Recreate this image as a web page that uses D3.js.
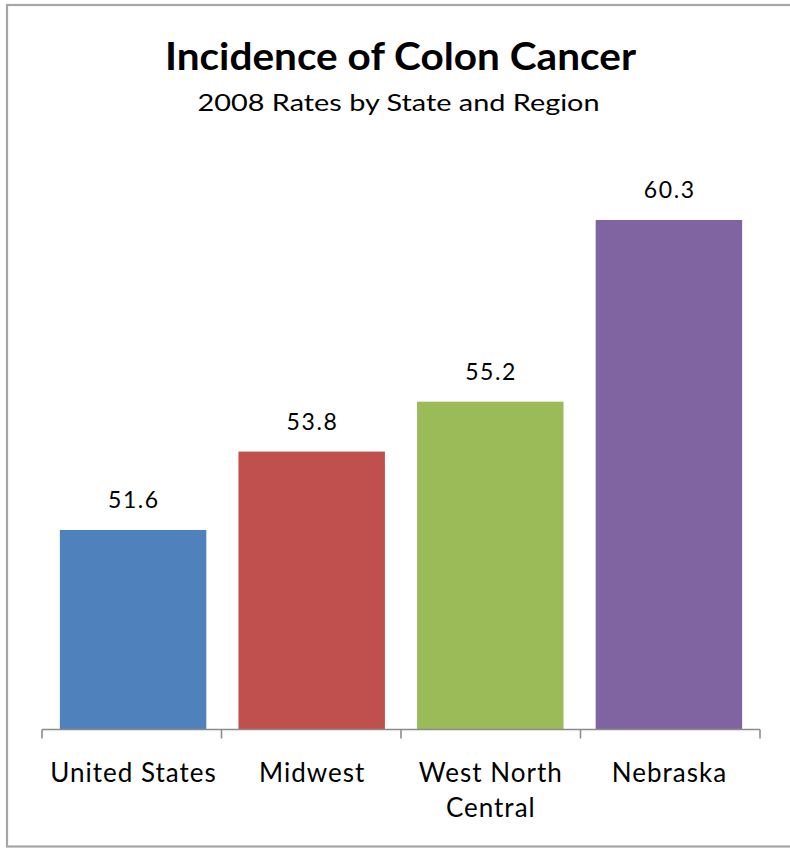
<!DOCTYPE html>
<html>
<head>
<meta charset="utf-8">
<script src="https://cdn.jsdelivr.net/npm/d3@7"></script>
<style>
  html, body { margin: 0; padding: 0; background: #fff; }
  svg { display: block; }
  text { font-family: Lato, "Open Sans", sans-serif; fill: #000; }
</style>
</head>
<body>
<svg id="chart" width="790" height="848"></svg>
<script>
const categories = ["United States", "Midwest", "West North Central", "Nebraska"];
const categoryLines = [["United States"], ["Midwest"], ["West North", "Central"], ["Nebraska"]];
const values = [51.6, 53.8, 55.2, 60.3];
const colors = ["#4F81BD", "#C0504D", "#9BBB59", "#8064A2"];
const yDomain = [46, 62];
const title = "Incidence of Colon Cancer";
const subtitle = "2008 Rates by State and Region";

const svg = d3.select("#chart");
const W = 790, H = 848;

// outer frame (right edge lies beyond the picture)
svg.append("rect")
  .attr("x", 7).attr("y", 5)
  .attr("width", W + 10).attr("height", 841.5)
  .attr("fill", "#fff")
  .attr("stroke", "#a6a6a6").attr("stroke-width", 2.2);

const x = d3.scaleBand()
  .domain(categories)
  .range([42, 760])
  .paddingInner(0.18)
  .paddingOuter(0.1);

const y = d3.scaleLinear()
  .domain(yDomain)
  .range([729.5, 159.4]);

// title
svg.append("text")
  .attr("x", 400.5).attr("y", 69.5)
  .attr("text-anchor", "middle")
  .attr("font-size", 38).attr("font-weight", "bold")
  .attr("textLength", 471).attr("lengthAdjust", "spacingAndGlyphs")
  .text(title);

svg.append("text")
  .attr("x", 398.5).attr("y", 111)
  .attr("text-anchor", "middle")
  .attr("font-size", 23)
  .attr("textLength", 402).attr("lengthAdjust", "spacingAndGlyphs")
  .attr("fill", "#1a1a1a")
  .text(subtitle);

const data = categories.map((c, i) => ({ c, v: values[i], color: colors[i], lines: categoryLines[i] }));

// bars
svg.append("g").selectAll("rect")
  .data(data).join("rect")
  .attr("x", d => x(d.c))
  .attr("width", x.bandwidth())
  .attr("y", d => y(d.v))
  .attr("height", d => y(yDomain[0]) - y(d.v))
  .attr("fill", d => d.color);

// value labels
svg.append("g").selectAll("text")
  .data(data).join("text")
  .attr("x", d => x(d.c) + x.bandwidth() / 2 + 0.8)
  .attr("y", d => y(d.v) - 22)
  .attr("text-anchor", "middle")
  .attr("font-size", 23)
  .attr("letter-spacing", 1.6)
  .attr("fill", "#1a1a1a")
  .text(d => d.v.toFixed(1));

// axis line and ticks at category boundaries
const axis = svg.append("g").attr("stroke", "#8c8c8c").attr("stroke-width", 1.6).attr("fill", "none");
const y0 = y(yDomain[0]);
axis.append("line")
  .attr("x1", x.range()[0]).attr("x2", x.range()[1])
  .attr("y1", y0).attr("y2", y0);
const bounds = d3.range(categories.length + 1).map(i => x.range()[0] + i * (x.range()[1] - x.range()[0]) / categories.length);
axis.selectAll("line.tick")
  .data(bounds).join("line")
  .attr("class", "tick")
  .attr("x1", d => d).attr("x2", d => d)
  .attr("y1", y0).attr("y2", y0 + 9);

// category labels
const lab = svg.append("g").selectAll("text")
  .data(data).join("text")
  .attr("text-anchor", "middle")
  .attr("font-size", 26)
  .attr("letter-spacing", 1)
  .attr("fill", "#1a1a1a")
  .attr("x", d => x(d.c) + x.bandwidth() / 2)
  .attr("y", 781.5);
lab.selectAll("tspan")
  .data(d => d.lines.map(l => ({ l, cx: x(d.c) + x.bandwidth() / 2 + 0.5 })))
  .join("tspan")
  .attr("x", t => t.cx)
  .attr("dy", (t, i) => i === 0 ? 0 : 35.5)
  .text(t => t.l);
</script>
</body>
</html>
